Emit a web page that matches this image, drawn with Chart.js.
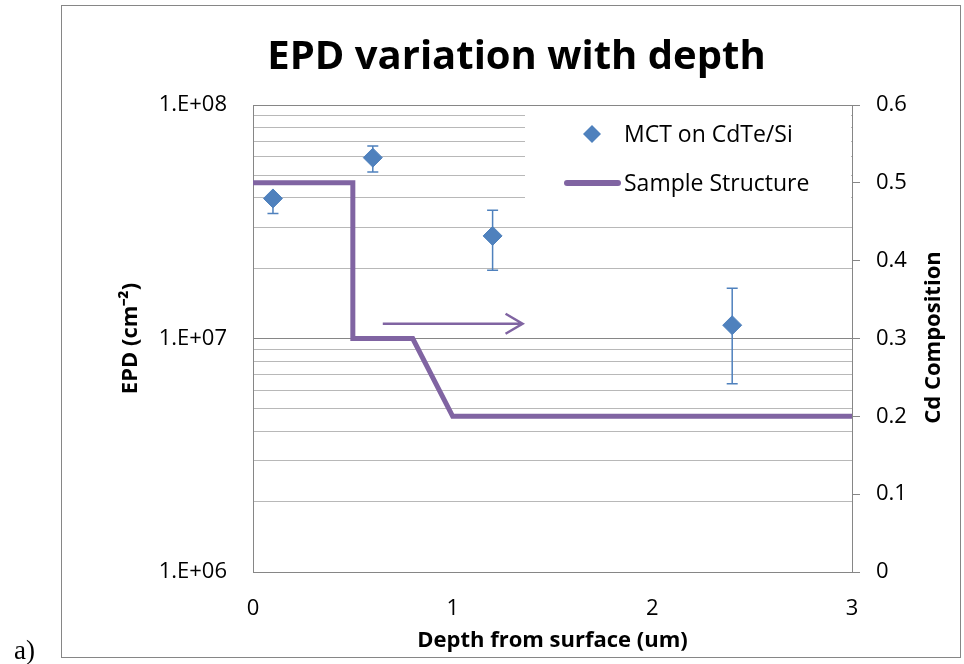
<!DOCTYPE html>
<html><head><meta charset="utf-8">
<script src="https://cdn.jsdelivr.net/npm/chart.js@4.4.1/dist/chart.umd.min.js"></script>
<style>html,body{margin:0;padding:0;background:#fff;} canvas{display:block;}</style>
</head><body>
<canvas id="c" width="964" height="664" style="width:964px;height:664px"></canvas>
<script>
// ---- texts ----
const chartTitle = 'EPD variation with depth';
const xTitle = 'Depth from surface (um)';
const yTitle = 'EPD (cm\u207B\u00B2)';
const y2Title = 'Cd Composition';
const panelLabel = 'a)';
const seriesNames = ['MCT on CdTe/Si', 'Sample Structure'];

// ---- measured series ----
const depth = [0.1, 0.6, 1.2, 2.4];
const epd = [3.98e7, 5.95e7, 2.75e7, 1.14e7];
const epdErrPlus = [0.15e7, 0.72e7, 0.79e7, 0.50e7];
const epdErrMinus = [0.55e7, 0.78e7, 0.79e7, 0.50e7];

// ---- sample structure (Cd composition profile) ----
const structDepth = [0, 0.5, 0.5, 0.8, 1.0, 3.0];
const structCd = [0.5, 0.5, 0.3, 0.3, 0.2, 0.2];

// ---- annotation arrow (points toward the right axis) ----
const arrowDepth = [0.65, 1.35];
const arrowEpd = [1.157e7, 1.157e7];

// ---- ticks ----
const xTicks = [0, 1, 2, 3];
const xTickLabels = ['0', '1', '2', '3'];
const epdTicks = [1e6, 2e6, 3e6, 4e6, 5e6, 6e6, 7e6, 8e6, 9e6,
                  1e7, 2e7, 3e7, 4e7, 5e7, 6e7, 7e7, 8e7, 9e7, 1e8];
const epdTickLabels = ['1.E+06', '', '', '', '', '', '', '', '',
                       '1.E+07', '', '', '', '', '', '', '', '', '1.E+08'];
const epdMajor = [1e6, 1e7, 1e8];
const cdTicks = [0, 0.1, 0.2, 0.3, 0.4, 0.5, 0.6];
const cdTickLabels = ['0', '0.1', '0.2', '0.3', '0.4', '0.5', '0.6'];

const BLUE = '#4F81BD';
const PURPLE = '#8064A2';
const AXIS = '#868686';
const MINOR = '#B8B8B8';
const FONT = 'Open Sans';

const decor = {
  id: 'decor',
  beforeDatasetsDraw(chart) {
    const ctx = chart.ctx, xs = chart.scales.x, ys = chart.scales.y;
    ctx.save();
    ctx.strokeStyle = BLUE;
    ctx.lineWidth = 1.5;
    for (let i = 0; i < depth.length; i++) {
      const px = xs.getPixelForValue(depth[i]);
      const yt = ys.getPixelForValue(epd[i] + epdErrPlus[i]);
      const yb = ys.getPixelForValue(epd[i] - epdErrMinus[i]);
      ctx.beginPath();
      ctx.moveTo(px, yt); ctx.lineTo(px, yb);
      ctx.moveTo(px - 5.5, yt); ctx.lineTo(px + 5.5, yt);
      ctx.moveTo(px - 5.5, yb); ctx.lineTo(px + 5.5, yb);
      ctx.stroke();
    }
    ctx.restore();
  },
  afterDatasetsDraw(chart) {
    const ctx = chart.ctx, xs = chart.scales.x, ys = chart.scales.y;
    const a = chart.chartArea;
    ctx.save();
    // arrow
    const x1 = xs.getPixelForValue(arrowDepth[0]);
    const x2 = xs.getPixelForValue(arrowDepth[1]);
    const ya = ys.getPixelForValue(arrowEpd[0]);
    ctx.strokeStyle = PURPLE;
    ctx.lineWidth = 2.5;
    ctx.beginPath();
    ctx.moveTo(x1, ya); ctx.lineTo(x2, ya);
    ctx.moveTo(x2 - 17, ya - 10); ctx.lineTo(x2, ya); ctx.lineTo(x2 - 17, ya + 10);
    ctx.stroke();
    // legend box
    ctx.fillStyle = '#fff';
    ctx.fillRect(525, a.top + 2, a.right - 526, 116);
    // entry 1
    const dx = 592, dy = 134, r = 9;
    ctx.fillStyle = BLUE;
    ctx.beginPath();
    ctx.moveTo(dx - r, dy); ctx.lineTo(dx, dy - r); ctx.lineTo(dx + r, dy); ctx.lineTo(dx, dy + r);
    ctx.closePath(); ctx.fill();
    ctx.fillStyle = '#000';
    ctx.font = '23px "' + FONT + '"';
    ctx.textAlign = 'left';
    ctx.textBaseline = 'alphabetic';
    ctx.fillText(seriesNames[0], 624, 141.6);
    // entry 2
    ctx.strokeStyle = PURPLE;
    ctx.lineWidth = 6;
    ctx.lineCap = 'round';
    ctx.beginPath(); ctx.moveTo(567, 183); ctx.lineTo(618, 183); ctx.stroke();
    ctx.fillText(seriesNames[1], 624, 191.2);
    ctx.restore();
  },
  afterDraw(chart) {
    const ctx = chart.ctx;
    ctx.save();
    ctx.strokeStyle = AXIS;
    ctx.lineWidth = 1;
    ctx.strokeRect(61.5, 5.5, 899, 652);
    // right axis title (reads bottom-to-top)
    ctx.translate(934, 337.5);
    ctx.rotate(-Math.PI / 2);
    ctx.fillStyle = '#000';
    ctx.font = 'bold 22px "' + FONT + '"';
    ctx.textAlign = 'center';
    ctx.textBaseline = 'middle';
    ctx.fillText(y2Title, 0, 0);
    ctx.restore();
    ctx.save();
    ctx.fillStyle = '#000';
    ctx.font = '27px "Liberation Serif"';
    ctx.textAlign = 'left';
    ctx.textBaseline = 'alphabetic';
    ctx.fillText(panelLabel, 14, 659);
    ctx.restore();
  }
};

new Chart(document.getElementById('c'), {
  data: {
    datasets: [
      {
        type: 'scatter',
        label: seriesNames[0],
        data: depth.map((d, i) => ({x: d, y: epd[i]})),
        xAxisID: 'x', yAxisID: 'y',
        pointStyle: 'rectRot',
        pointRadius: 9.5,
        pointBackgroundColor: BLUE,
        pointBorderColor: BLUE,
        pointBorderWidth: 1,
        showLine: false
      },
      {
        type: 'line',
        label: seriesNames[1],
        data: structDepth.map((d, i) => ({x: d, y: structCd[i]})),
        xAxisID: 'x', yAxisID: 'y2',
        borderColor: PURPLE,
        borderWidth: 5,
        borderJoinStyle: 'miter',
        pointRadius: 0,
        tension: 0,
        fill: false
      }
    ]
  },
  options: {
    responsive: false,
    animation: false,
    events: [],
    layout: {padding: {left: 73, right: 4, top: 5, bottom: 6}},
    plugins: {
      legend: {display: false},
      tooltip: {enabled: false},
      title: {
        display: true,
        text: chartTitle,
        color: '#000',
        font: {family: FONT, size: 40, weight: 'bold', lineHeight: 1.2},
        padding: {top: 28.5, bottom: 23.5}
      }
    },
    scales: {
      x: {
        type: 'linear', position: 'bottom', min: 0, max: 3,
        afterBuildTicks: s => { s.ticks = xTicks.map(v => ({value: v})); },
        afterFit: s => { s.height = 86; },
        grid: {display: false, drawTicks: false},
        border: {display: true, color: AXIS, width: 1},
        ticks: {
          padding: 23.8, color: '#000', maxRotation: 0, autoSkip: false,
          font: {family: FONT, size: 22, lineHeight: 1.2},
          callback: (v, i) => xTickLabels[i]
        },
        title: {
          display: true, text: xTitle, color: '#000',
          font: {family: FONT, size: 22, weight: 'bold', lineHeight: 1.2},
          padding: {top: 0, bottom: 3.8}
        }
      },
      y: {
        type: 'logarithmic', position: 'left', min: 1e6, max: 1e8,
        afterBuildTicks: s => { s.ticks = epdTicks.map(v => ({value: v})); },
        afterFit: s => { s.width = 180; },
        grid: {
          drawTicks: false, lineWidth: 1,
          color: c => (c.tick && epdMajor.includes(c.tick.value)) ? AXIS : MINOR
        },
        border: {display: true, color: AXIS, width: 1},
        ticks: {
          padding: 26, color: '#000', autoSkip: false,
          font: {family: FONT, size: 22, lineHeight: 1.2},
          callback: (v, i) => epdTickLabels[i]
        },
        title: {
          display: true, text: yTitle, color: '#000',
          font: {family: FONT, size: 22, weight: 'bold', lineHeight: 1.2},
          padding: {top: 44.8, bottom: 0}
        }
      },
      y2: {
        type: 'linear', position: 'right', min: 0, max: 0.6,
        afterBuildTicks: s => { s.ticks = cdTicks.map(v => ({value: v})); },
        afterFit: s => { s.width = 108; },
        grid: {drawOnChartArea: false, drawTicks: true, tickLength: 8, color: AXIS, lineWidth: 1},
        border: {display: true, color: AXIS, width: 1},
        ticks: {
          padding: 16, color: '#000', autoSkip: false,
          font: {family: FONT, size: 22, lineHeight: 1.2},
          callback: (v, i) => cdTickLabels[i]
        }
      }
    }
  },
  plugins: [decor]
});
</script>
</body></html>
